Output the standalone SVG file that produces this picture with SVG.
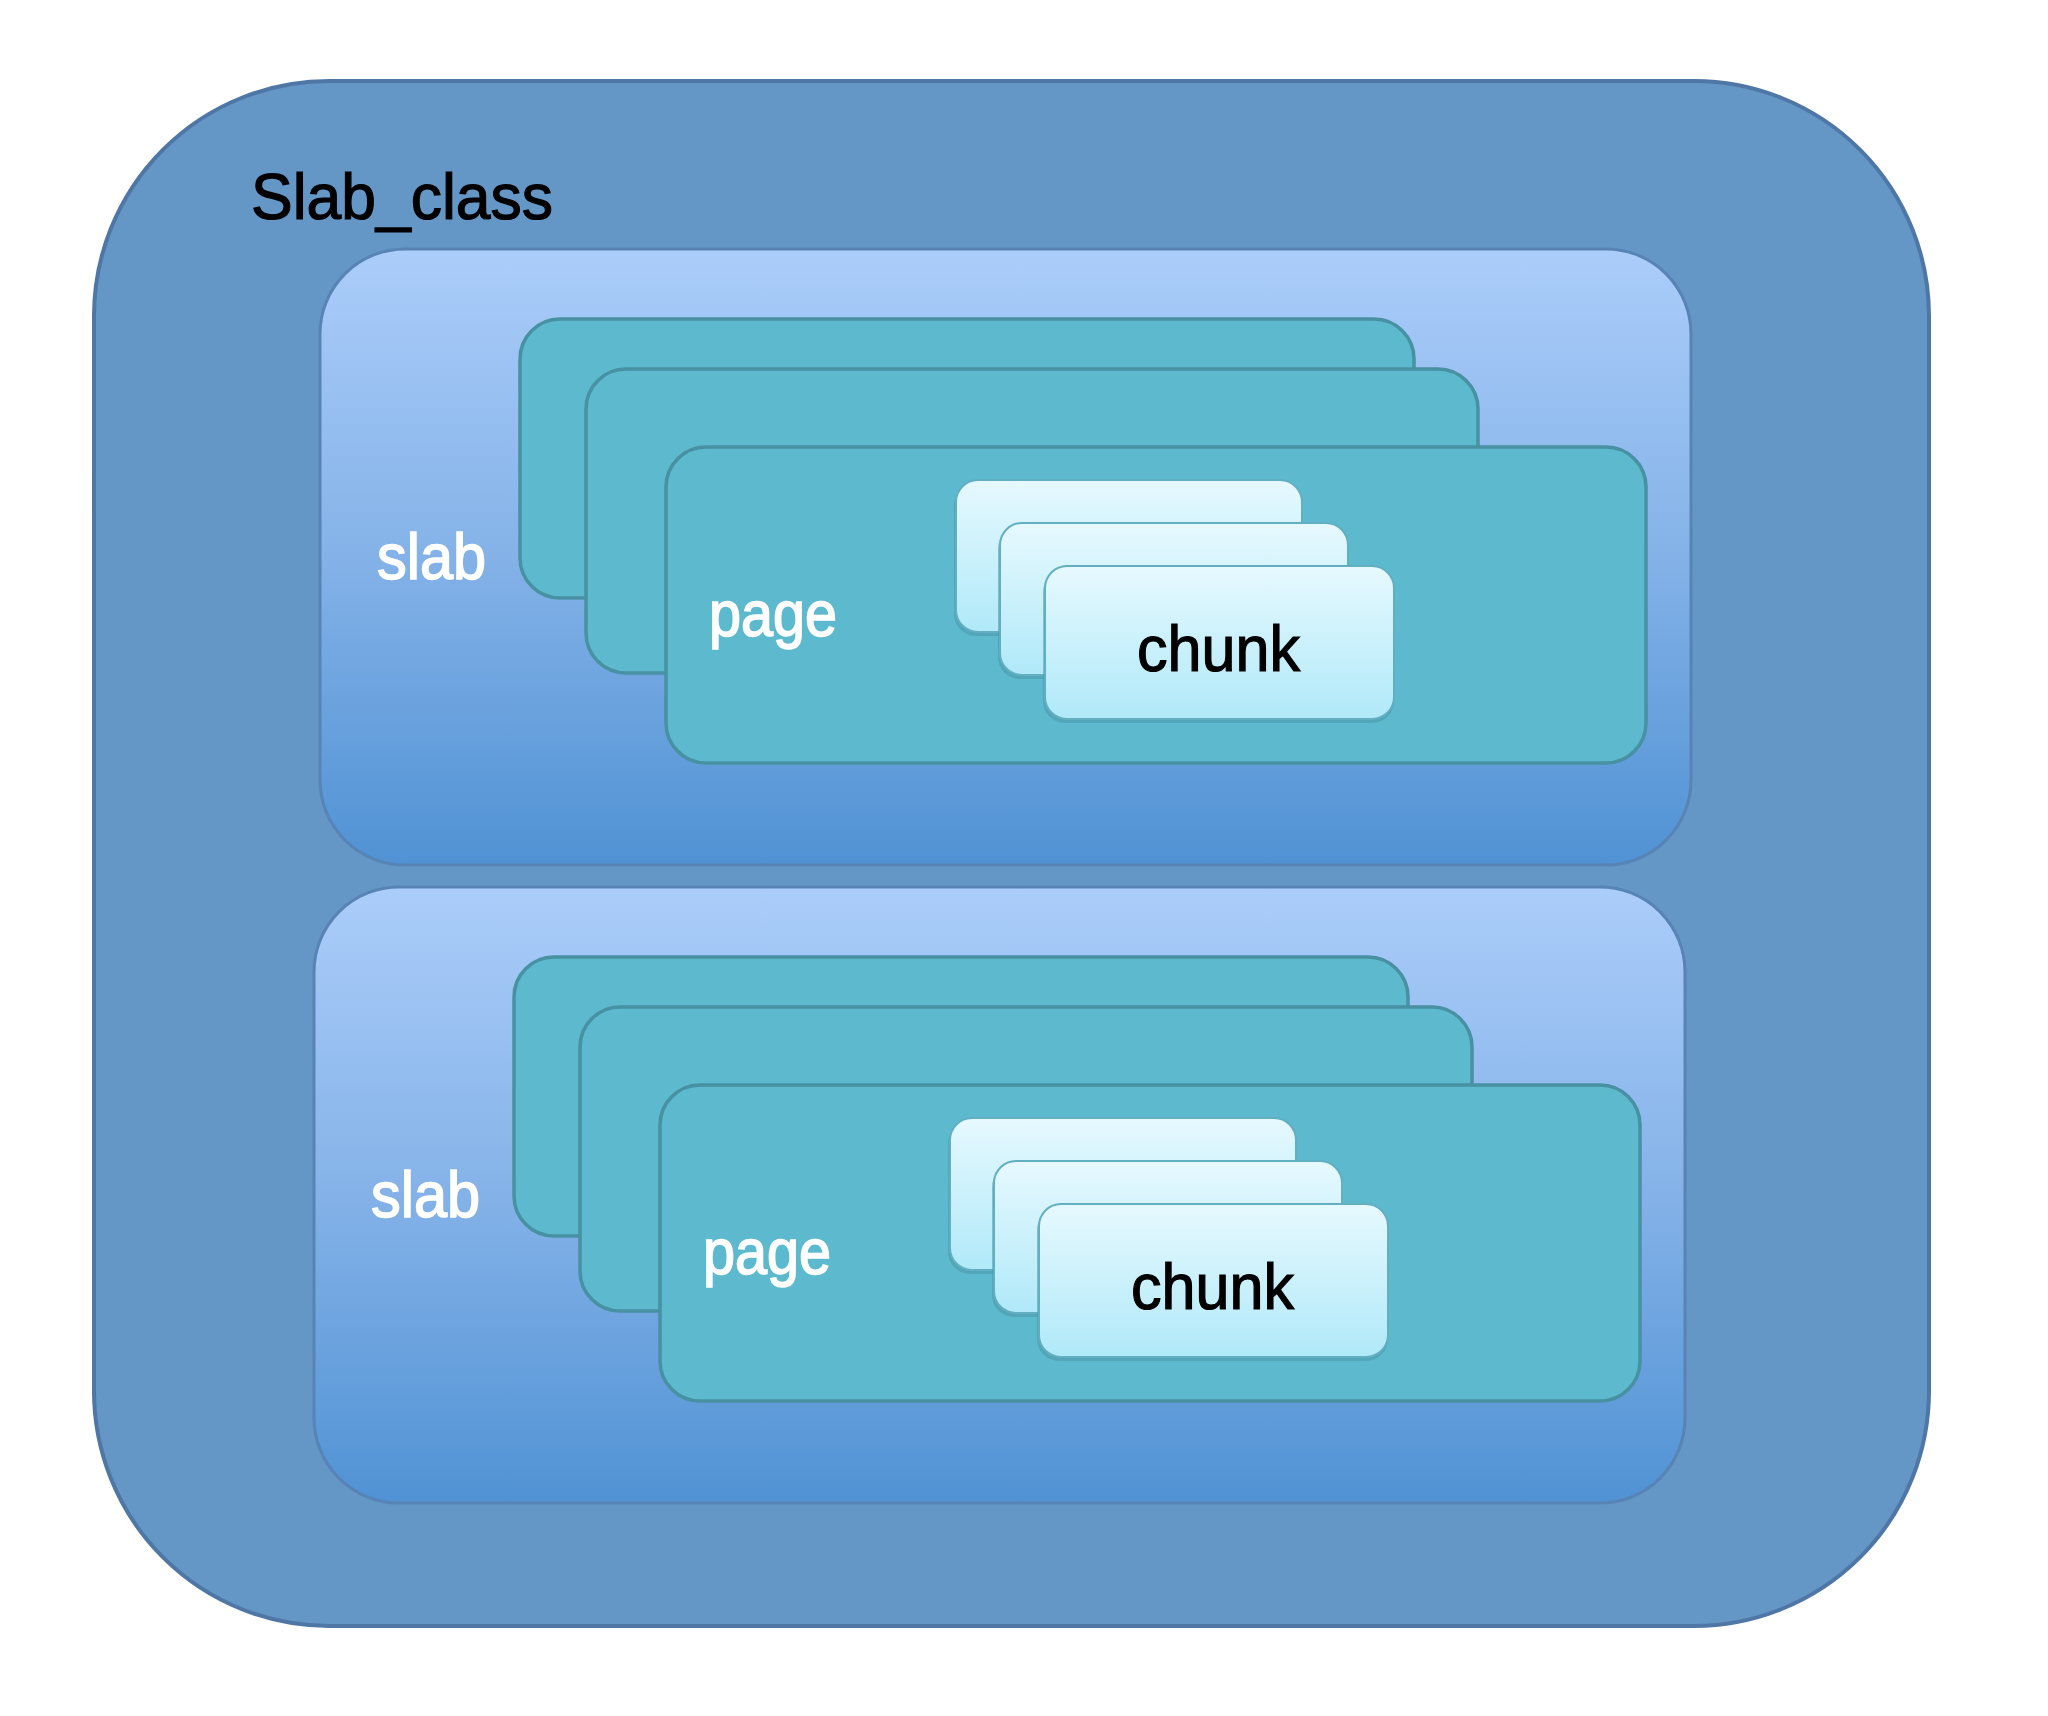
<svg xmlns="http://www.w3.org/2000/svg" width="2048" height="1716" viewBox="0 0 2048 1716">
  <defs>
    <linearGradient id="slabGrad" x1="0" y1="0" x2="0" y2="1">
      <stop offset="0" stop-color="#ABCDFA"/>
      <stop offset="0.5" stop-color="#84B2E8"/>
      <stop offset="1" stop-color="#5092D4"/>
    </linearGradient>
    <linearGradient id="chunkGrad" x1="0" y1="0" x2="0" y2="1">
      <stop offset="0" stop-color="#E6F9FE"/>
      <stop offset="1" stop-color="#B0E9F9"/>
    </linearGradient>
    <style>
      .outer { fill: #6496C6; stroke: #4F77A6; stroke-width: 4; }
      .slab { fill: url(#slabGrad); stroke: #5783B5; stroke-width: 3; }
      .page { fill: #5DB9CD; stroke: #4791A3; stroke-width: 3.5; }
      .chunk { fill: url(#chunkGrad); stroke: #62AFC2; stroke-width: 2; }
      .chunkShadow { fill: #4A95A8; opacity: 0.55; }
      .lbl { font-family: "Liberation Sans", Arial, sans-serif; font-size: 64px; }
      .white { fill: #FFFFFF; stroke: #FFFFFF; stroke-width: 1.6; }
      .black { fill: #000000; stroke: #000000; stroke-width: 1.2; }
    </style>
  </defs>
  <rect width="2048" height="1716" fill="#FFFFFF"/>

  <g id="slab_class">
    <rect class="outer" x="94" y="81" width="1835" height="1545" rx="235" ry="235"/>
    <text class="lbl black" x="251" y="219" font-size="67" textLength="302" lengthAdjust="spacingAndGlyphs">Slab_class</text>
  </g>

  <g id="slab_1">
    <rect class="slab" x="320" y="249" width="1371" height="616" rx="85" ry="85"/>
    <text class="lbl white" x="377" y="579" textLength="109" lengthAdjust="spacingAndGlyphs">slab</text>
    <g id="slab_1_page_1"><rect class="page" x="520" y="319" width="894" height="279" rx="40" ry="40"/></g>
    <g id="slab_1_page_2"><rect class="page" x="586" y="369" width="892" height="304" rx="40" ry="40"/></g>
    <g id="slab_1_page_3">
      <rect class="page" x="666" y="447" width="980" height="316" rx="40" ry="40"/>
      <text class="lbl white" x="709" y="636" textLength="128" lengthAdjust="spacingAndGlyphs">page</text>
      <g id="slab_1_chunk_1">
        <rect class="chunkShadow" x="954" y="484" width="348" height="152" rx="22" ry="22"/>
        <rect class="chunk" x="956" y="480" width="346" height="152" rx="22" ry="22"/>
      </g>
      <g id="slab_1_chunk_2">
        <rect class="chunkShadow" x="998" y="527" width="350" height="152" rx="22" ry="22"/>
        <rect class="chunk" x="1000" y="523" width="348" height="152" rx="22" ry="22"/>
      </g>
      <g id="slab_1_chunk_3">
        <rect class="chunkShadow" x="1043" y="570" width="351" height="153" rx="22" ry="22"/>
        <rect class="chunk" x="1045" y="566" width="349" height="153" rx="22" ry="22"/>
        <text class="lbl black" x="1137" y="671" textLength="163" lengthAdjust="spacingAndGlyphs">chunk</text>
      </g>
    </g>
  </g>

  <g id="slab_2" transform="translate(-6 638)">
    <rect class="slab" x="320" y="249" width="1371" height="616" rx="85" ry="85"/>
    <text class="lbl white" x="377" y="579" textLength="109" lengthAdjust="spacingAndGlyphs">slab</text>
    <g id="slab_2_page_1"><rect class="page" x="520" y="319" width="894" height="279" rx="40" ry="40"/></g>
    <g id="slab_2_page_2"><rect class="page" x="586" y="369" width="892" height="304" rx="40" ry="40"/></g>
    <g id="slab_2_page_3">
      <rect class="page" x="666" y="447" width="980" height="316" rx="40" ry="40"/>
      <text class="lbl white" x="709" y="636" textLength="128" lengthAdjust="spacingAndGlyphs">page</text>
      <g id="slab_2_chunk_1">
        <rect class="chunkShadow" x="954" y="484" width="348" height="152" rx="22" ry="22"/>
        <rect class="chunk" x="956" y="480" width="346" height="152" rx="22" ry="22"/>
      </g>
      <g id="slab_2_chunk_2">
        <rect class="chunkShadow" x="998" y="527" width="350" height="152" rx="22" ry="22"/>
        <rect class="chunk" x="1000" y="523" width="348" height="152" rx="22" ry="22"/>
      </g>
      <g id="slab_2_chunk_3">
        <rect class="chunkShadow" x="1043" y="570" width="351" height="153" rx="22" ry="22"/>
        <rect class="chunk" x="1045" y="566" width="349" height="153" rx="22" ry="22"/>
        <text class="lbl black" x="1137" y="671" textLength="163" lengthAdjust="spacingAndGlyphs">chunk</text>
      </g>
    </g>
  </g>

  <g id="connectors"/>
</svg>
